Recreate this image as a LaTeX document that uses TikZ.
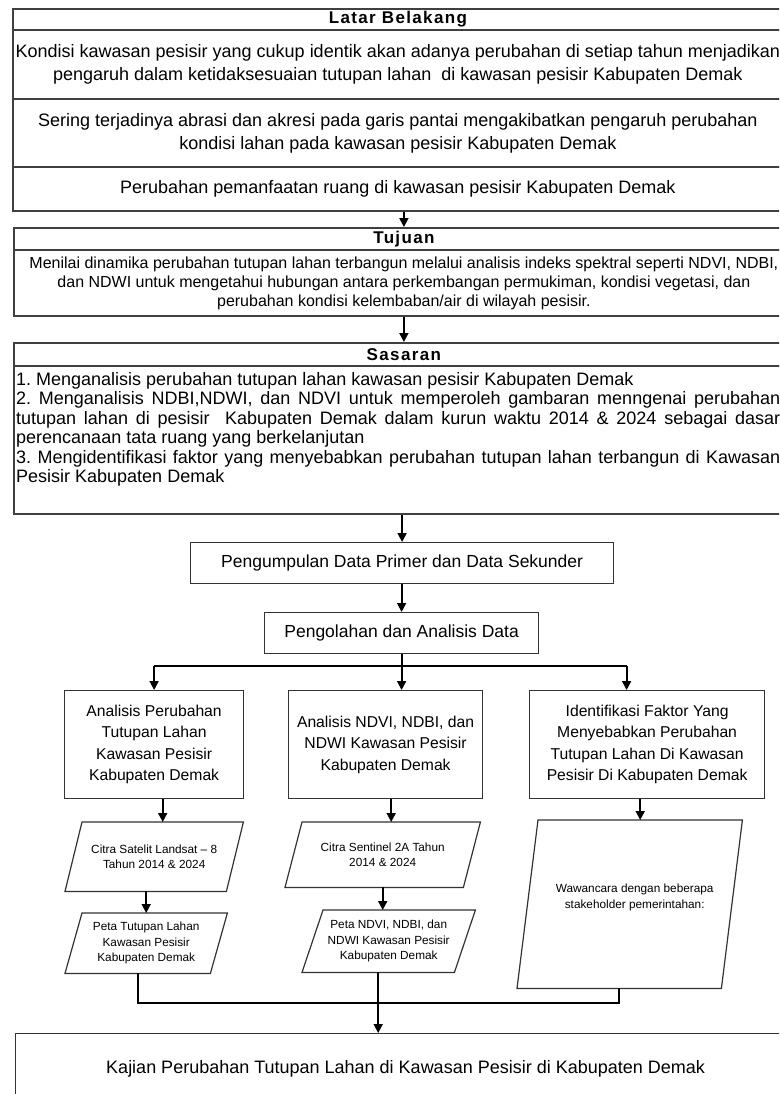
\documentclass[tikz,border=0pt]{standalone}
\usepackage{fontspec}
\setmainfont{Liberation Sans}
\newfontface\hdrfont[LetterSpace=8]{Liberation Sans Bold}
\usetikzlibrary{arrows.meta}
\tikzset{
  topbox/.style={draw=black!75, line width=1.8pt, inner sep=0pt, align=center, anchor=north west},
  hdr/.style={topbox, font=\hdrfont\fontsize{17}{19}\selectfont},
  bigtxt/.style={font=\fontsize{18}{23}\selectfont},
  lowbox/.style={draw=black!80, line width=1.2pt, inner sep=0pt, align=center, anchor=north west},
  midtxt/.style={font=\fontsize{15.7}{21.5}\selectfont},
  ghost/.style={inner sep=0pt, align=center, anchor=north west},
  smalltxt/.style={font=\fontsize{11.8}{15.5}\selectfont, align=center, inner sep=0pt},
  para/.style={draw=black!80, line width=1.2pt},
  conn/.style={draw=black, line width=1.8pt},
  arr/.style={conn, -{Triangle[width=9pt,length=9pt]}},
}
\begin{document}
\begin{tikzpicture}[x=1pt,y=-1pt]
\useasboundingbox (0,0) rectangle (779,1094);
\clip (0,0) rectangle (779,1094);
\fill[white] (0,0) rectangle (779,1094);

% Latar Belakang
\node[hdr, minimum width=770pt, minimum height=21pt] (lb) at (12,8) {Latar Belakang};
\node[topbox, bigtxt, minimum width=770pt, minimum height=69pt] (b1) at (12,29)
  {Kondisi kawasan pesisir yang cukup identik akan adanya perubahan di setiap tahun menjadikan\\pengaruh dalam ketidaksesuaian tutupan lahan\ \ di kawasan pesisir Kabupaten Demak};
\node[topbox, bigtxt, minimum width=770pt, minimum height=68pt] (b2) at (12,98)
  {Sering terjadinya abrasi dan akresi pada garis pantai mengakibatkan pengaruh perubahan\\kondisi lahan pada kawasan pesisir Kabupaten Demak};
\node[topbox, bigtxt, minimum width=770pt, minimum height=44pt] (b3) at (12,166)
  {Perubahan pemanfaatan ruang di kawasan pesisir Kabupaten Demak};

% Tujuan
\node[hdr, minimum width=780pt, minimum height=22pt] (tj) at (13,227) {Tujuan};
\node[topbox, font=\fontsize{16}{19}\selectfont, minimum width=780pt, minimum height=66pt] (tjb) at (13,249)
  {Menilai dinamika perubahan tutupan lahan terbangun melalui analisis indeks spektral seperti NDVI, NDBI,\\dan NDWI untuk mengetahui hubungan antara perkembangan permukiman, kondisi vegetasi, dan\\perubahan kondisi kelembaban/air di wilayah pesisir.};

% Sasaran
\node[hdr, minimum width=780pt, minimum height=23pt] (ss) at (13,342) {Sasaran};
\node[topbox, minimum width=780pt, minimum height=148pt] (ssb) at (13,365) {};
\node[ghost, text width=764pt, align=justify, font=\fontsize{18}{19.5}\selectfont\frenchspacing] (sst) at (16,372)
  {1. Menganalisis perubahan tutupan lahan kawasan pesisir Kabupaten Demak\par
   2. Menganalisis NDBI,NDWI, dan NDVI untuk memperoleh gambaran menngenai perubahan\linebreak
   tutupan lahan di pesisir\ \ Kabupaten Demak dalam kurun waktu 2014 \& 2024 sebagai dasar\linebreak
   perencanaan tata ruang yang berkelanjutan\par
   3. Mengidentifikasi faktor yang menyebabkan perubahan tutupan lahan terbangun di Kawasan\linebreak
   Pesisir Kabupaten Demak};

% process
\node[lowbox, font=\fontsize{17.5}{21}\selectfont, minimum width=423pt, minimum height=41pt] (pk) at (190,542)
  {Pengumpulan Data Primer dan Data Sekunder};
\node[lowbox, font=\fontsize{17.5}{21}\selectfont, minimum width=274pt, minimum height=41pt] (po) at (264,612)
  {Pengolahan dan Analisis Data};
\coordinate (sp) at (0,666);

\node[lowbox, midtxt, minimum width=179pt, minimum height=108pt] (A1) at (64,690)
  {Analisis Perubahan\\Tutupan Lahan\\Kawasan Pesisir\\Kabupaten Demak};
\node[lowbox, midtxt, minimum width=194pt, minimum height=108pt] (A2) at (288,690)
  {Analisis NDVI, NDBI, dan\\NDWI Kawasan Pesisir\\Kabupaten Demak};
\node[lowbox, midtxt, minimum width=235pt, minimum height=108pt] (A3) at (529,690)
  {Identifikasi Faktor Yang\\Menyebabkan Perubahan\\Tutupan Lahan Di Kawasan\\Pesisir Di Kabupaten Demak};

% parallelograms
\node[ghost, minimum width=178pt, minimum height=69pt] (c1) at (65,822) {};
\draw[para] (c1.south west) -- ([xshift=-17pt]c1.south east) -- (c1.north east) -- ([xshift=17pt]c1.north west) -- cycle;
\node[smalltxt] (c1t) at (c1.center) {Citra Satelit Landsat -- 8\\Tahun 2014 \& 2024};

\node[ghost, minimum width=162pt, minimum height=60pt] (p1) at (65,913) {};
\draw[para] (p1.south west) -- ([xshift=-17pt]p1.south east) -- (p1.north east) -- ([xshift=17pt]p1.north west) -- cycle;
\node[smalltxt] (p1t) at (p1.center) {Peta Tutupan Lahan\\Kawasan Pesisir\\Kabupaten Demak};

\node[ghost, minimum width=195pt, minimum height=65pt] (c2) at (285,822) {};
\draw[para] (c2.south west) -- ([xshift=-17pt]c2.south east) -- (c2.north east) -- ([xshift=17pt]c2.north west) -- cycle;
\node[smalltxt] (c2t) at (c2.center) {Citra Sentinel 2A Tahun\\2014 \& 2024};

\node[ghost, minimum width=173pt, minimum height=62pt] (p2) at (302,910) {};
\draw[para] (p2.south west) -- ([xshift=-21pt]p2.south east) -- (p2.north east) -- ([xshift=21pt]p2.north west) -- cycle;
\node[smalltxt] (p2t) at (p2.center) {Peta NDVI, NDBI, dan\\NDWI Kawasan Pesisir\\Kabupaten Demak};

\node[ghost, minimum width=225pt, minimum height=168pt] (c3) at (517,820) {};
\draw[para] (c3.south west) -- ([xshift=-21pt]c3.south east) -- (c3.north east) -- ([xshift=21pt]c3.north west) -- cycle;
\node[smalltxt] (c3t) at ([xshift=5pt,yshift=7pt]c3.center) {Wawancara dengan beberapa\\stakeholder pemerintahan:};

% final
\node[lowbox, font=\fontsize{18}{21}\selectfont, minimum width=780pt, minimum height=70pt] (kj) at (15,1033)
  {Kajian Perubahan Tutupan Lahan di Kawasan Pesisir di Kabupaten Demak};

% connectors
\draw[arr] (tj.north |- b3.south) -- (tj.north);
\draw[arr] (ss.north |- tjb.south) -- (ss.north);
\draw[arr] (pk.north |- ssb.south) -- (pk.north);
\draw[arr] (po.north |- pk.south) -- (po.north);
\draw[conn] (po.south) -- (po.south |- sp);
\draw[conn] (A1.north |- sp) -- ([xshift=-20.5pt]A3.north |- sp);
\draw[arr] (A1.north |- sp) -- (A1.north);
\draw[arr] (po.south |- sp) -- (po.south |- A2.north);
\draw[arr] ([xshift=-20.5pt]A3.north |- sp) -- ([xshift=-20.5pt]A3.north);

\draw[arr] ([xshift=8.5pt]c1.north |- A1.south) -- ([xshift=8.5pt]c1.north);
\draw[arr] (p1.north |- c1.south) -- (p1.north);
\draw[arr] ([xshift=8.5pt]c2.north |- A2.south) -- ([xshift=8.5pt]c2.north);
\draw[arr] (c2.south) -- (c2.south |- p2.north);
\draw[arr] ([xshift=10.5pt]c3.north |- A3.south) -- ([xshift=10.5pt]c3.north);

\coordinate (m) at (0,1003);
\draw[conn] ([xshift=-8.5pt]p1.south) -- ([xshift=-8.5pt]p1.south |- m) -- ([xshift=-10.5pt]c3.south |- m) -- ([xshift=-10.5pt]c3.south);
\draw[arr] ([xshift=-10.5pt]p2.south) -- ([xshift=-10.5pt]p2.south |- kj.north);
\end{tikzpicture}
\end{document}
